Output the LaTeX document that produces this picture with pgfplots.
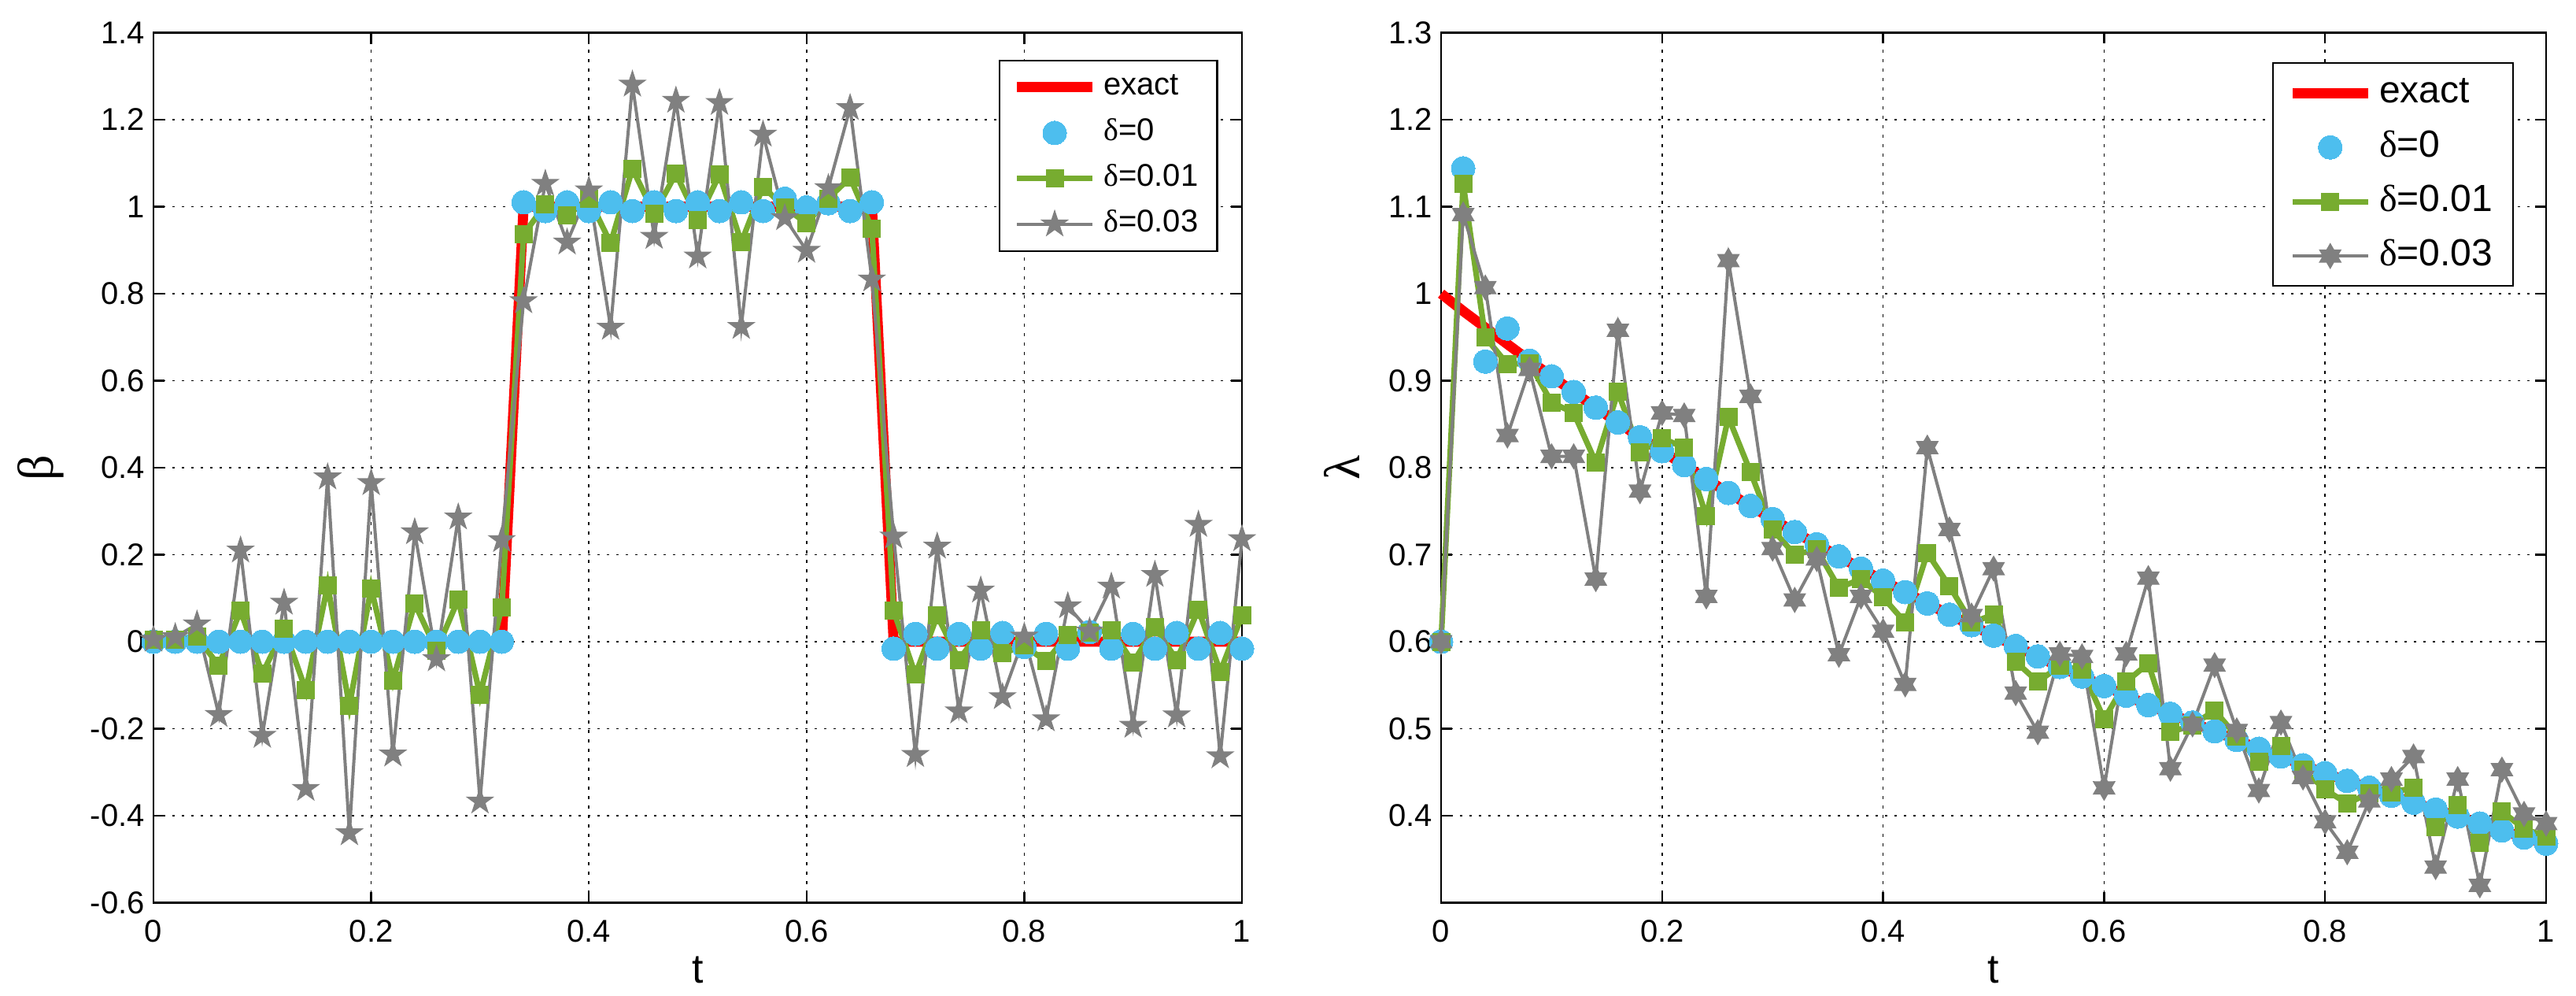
\documentclass[border=0pt]{standalone}
\usepackage{fontspec}
\setmainfont{Liberation Sans}
\newfontfamily\greek{Liberation Serif}
\usepackage{pgfplots}
\usepackage{pgfplotstable}
\pgfplotsset{compat=1.18}

\definecolor{cblue}{rgb}{0.302,0.745,0.933}
\definecolor{cgreen}{rgb}{0.467,0.675,0.188}
\definecolor{cgray}{rgb}{0.5,0.5,0.5}

\pgfdeclareplotmark{pentagram*}{%
  \pgfpathmoveto{\pgfpointpolar{90}{\pgfplotmarksize}}%
  \pgfpathlineto{\pgfpointpolar{126}{0.382\pgfplotmarksize}}%
  \pgfpathlineto{\pgfpointpolar{162}{\pgfplotmarksize}}%
  \pgfpathlineto{\pgfpointpolar{198}{0.382\pgfplotmarksize}}%
  \pgfpathlineto{\pgfpointpolar{234}{\pgfplotmarksize}}%
  \pgfpathlineto{\pgfpointpolar{270}{0.382\pgfplotmarksize}}%
  \pgfpathlineto{\pgfpointpolar{306}{\pgfplotmarksize}}%
  \pgfpathlineto{\pgfpointpolar{342}{0.382\pgfplotmarksize}}%
  \pgfpathlineto{\pgfpointpolar{18}{\pgfplotmarksize}}%
  \pgfpathlineto{\pgfpointpolar{54}{0.382\pgfplotmarksize}}%
  \pgfpathclose
  \pgfusepathqfillstroke}

\pgfdeclareplotmark{hexagram*}{%
  \pgfpathmoveto{\pgfpointpolar{90}{\pgfplotmarksize}}%
  \pgfpathlineto{\pgfpointpolar{120}{0.577\pgfplotmarksize}}%
  \pgfpathlineto{\pgfpointpolar{150}{\pgfplotmarksize}}%
  \pgfpathlineto{\pgfpointpolar{180}{0.577\pgfplotmarksize}}%
  \pgfpathlineto{\pgfpointpolar{210}{\pgfplotmarksize}}%
  \pgfpathlineto{\pgfpointpolar{240}{0.577\pgfplotmarksize}}%
  \pgfpathlineto{\pgfpointpolar{270}{\pgfplotmarksize}}%
  \pgfpathlineto{\pgfpointpolar{300}{0.577\pgfplotmarksize}}%
  \pgfpathlineto{\pgfpointpolar{330}{\pgfplotmarksize}}%
  \pgfpathlineto{\pgfpointpolar{0}{0.577\pgfplotmarksize}}%
  \pgfpathlineto{\pgfpointpolar{30}{\pgfplotmarksize}}%
  \pgfpathlineto{\pgfpointpolar{60}{0.577\pgfplotmarksize}}%
  \pgfpathclose
  \pgfusepathqfillstroke}

\pgfplotstableread{
t exact d0 d1 d3
0.00 0 0 0.005 0.005
0.02 0 0 0.005 0.011
0.04 0 0 0.011 0.040
0.06 0 0 -0.055 -0.168
0.08 0 0 0.072 0.210
0.10 0 0 -0.074 -0.216
0.12 0 0 0.030 0.090
0.14 0 0 -0.112 -0.338
0.16 0 0 0.129 0.378
0.18 0 0 -0.147 -0.440
0.20 0 0 0.123 0.365
0.22 0 0 -0.089 -0.259
0.24 0 0 0.088 0.252
0.26 0 0 -0.020 -0.040
0.28 0 0 0.097 0.286
0.30 0 0 -0.122 -0.367
0.32 0 0 0.079 0.234
0.34 1 1.010 0.936 0.783
0.36 1 0.990 1.005 1.053
0.38 1 1.010 0.980 0.918
0.40 1 0.990 1.019 1.038
0.42 1 1.010 0.916 0.722
0.44 1 0.990 1.087 1.281
0.46 1 1.010 0.984 0.931
0.48 1 0.990 1.076 1.244
0.50 1 1.010 0.970 0.886
0.52 1 0.990 1.074 1.239
0.54 1 1.010 0.918 0.724
0.56 1 0.990 1.046 1.166
0.58 1 1.018 0.998 0.974
0.60 1 0.998 0.962 0.899
0.62 1 1.008 1.019 1.043
0.64 1 0.990 1.067 1.227
0.66 1 1.010 0.950 0.833
0.68 0 -0.016 0.071 0.242
0.70 0 0.018 -0.076 -0.260
0.72 0 -0.016 0.060 0.219
0.74 0 0.018 -0.042 -0.160
0.76 0 -0.016 0.027 0.118
0.78 0 0.020 -0.027 -0.127
0.80 0 -0.012 -0.009 0.012
0.82 0 0.018 -0.045 -0.178
0.84 0 -0.016 0.015 0.082
0.86 0 0.022 0.021 0.024
0.88 0 -0.016 0.027 0.127
0.90 0 0.018 -0.048 -0.193
0.92 0 -0.016 0.034 0.154
0.94 0 0.020 -0.042 -0.169
0.96 0 -0.016 0.074 0.269
0.98 0 0.020 -0.069 -0.263
1.00 0 -0.016 0.060 0.236
}\betatable

\pgfplotstableread{
t exact d0 d1 d3
0.00 1.000 0.600 0.600 0.600
0.02 0.980 1.144 1.126 1.091
0.04 0.961 0.922 0.950 1.007
0.06 0.942 0.960 0.919 0.837
0.08 0.923 0.923 0.920 0.913
0.10 0.905 0.905 0.875 0.813
0.12 0.887 0.887 0.863 0.813
0.14 0.869 0.869 0.806 0.672
0.16 0.852 0.852 0.887 0.958
0.18 0.835 0.835 0.818 0.773
0.20 0.819 0.819 0.834 0.863
0.22 0.803 0.803 0.823 0.860
0.24 0.787 0.787 0.744 0.652
0.26 0.771 0.771 0.858 1.038
0.28 0.756 0.756 0.795 0.882
0.30 0.741 0.741 0.729 0.707
0.32 0.726 0.726 0.700 0.648
0.34 0.712 0.712 0.706 0.695
0.36 0.698 0.698 0.662 0.585
0.38 0.684 0.684 0.672 0.652
0.40 0.670 0.670 0.651 0.612
0.42 0.657 0.657 0.622 0.551
0.44 0.644 0.644 0.702 0.823
0.46 0.631 0.631 0.664 0.729
0.48 0.619 0.619 0.622 0.630
0.50 0.607 0.607 0.631 0.684
0.52 0.595 0.595 0.577 0.541
0.54 0.583 0.583 0.554 0.496
0.56 0.571 0.571 0.572 0.586
0.58 0.560 0.560 0.568 0.583
0.60 0.549 0.549 0.511 0.432
0.62 0.538 0.538 0.554 0.586
0.64 0.527 0.527 0.575 0.673
0.66 0.517 0.517 0.496 0.454
0.68 0.507 0.507 0.504 0.505
0.70 0.497 0.497 0.521 0.573
0.72 0.487 0.487 0.491 0.498
0.74 0.477 0.477 0.462 0.429
0.76 0.468 0.468 0.480 0.507
0.78 0.458 0.458 0.453 0.444
0.80 0.449 0.449 0.430 0.393
0.82 0.440 0.440 0.414 0.358
0.84 0.432 0.432 0.426 0.417
0.86 0.423 0.423 0.427 0.442
0.88 0.415 0.415 0.432 0.468
0.90 0.407 0.407 0.387 0.341
0.92 0.399 0.399 0.412 0.442
0.94 0.391 0.391 0.369 0.320
0.96 0.383 0.383 0.405 0.453
0.98 0.375 0.375 0.385 0.402
1.00 0.368 0.368 0.376 0.391
}\lambdatable

\pgfplotsset{
  myaxis/.style={
    scale only axis,
    anchor=south west,
    height=276.25pt,
    xmin=0, xmax=1,
    xtick={0,0.2,0.4,0.6,0.8,1},
    grid=major,
    major grid style={black, line width=0.4pt, dash pattern=on 0.8pt off 2.2pt},
    axis line style={black, line width=0.6pt},
    every tick/.style={black, line width=0.6pt},
    major tick length=3.5pt,
    tick align=inside,
    /pgf/number format/assume math mode=true,
    tick label style={font=\fontsize{10}{12}\selectfont},
    xticklabel style={anchor=base, yshift=-12.4pt},
    yticklabel style={anchor=east, inner sep=0pt, xshift=-2.6pt},
    xlabel={t},
    xlabel style={font=\fontsize{13}{15}\selectfont, at={(axis description cs:0.5,0)}, anchor=base, yshift=-25.4pt},
    clip=false,
    legend cell align=left,
    legend image code/.code={\draw[mark repeat=2, mark phase=2, ##1] plot coordinates {(0pt,0pt) (12pt,0pt) (24pt,0pt)};},
  },
  exactstyle/.style={color=red, line width=3.2pt, no marks},
  d0style/.style={only marks, mark=*, mark size=3.75pt, mark options={draw=cblue, fill=cblue, line width=0pt},
    legend image code/.code={\path[only marks, ##1] plot coordinates {(12pt,0pt)}; \path (0pt,0pt) (24pt,0pt);}},
  d1style/.style={color=cgreen, line width=1.8pt, mark=square*, mark size=2.75pt, mark options={solid, draw=cgreen, fill=cgreen, line width=0pt}},
}

\begin{document}
\begin{tikzpicture}
\useasboundingbox (0,0) rectangle (818.25pt,316pt);
\begin{axis}[myaxis,
  at={(48.75pt,29.375pt)}, width=345.75pt,
  ymin=-0.6, ymax=1.4,
  ytick={-0.6,-0.4,-0.2,0,0.2,0.4,0.6,0.8,1,1.2,1.4},
  ylabel={\greek β},
  ylabel style={font=\fontsize{16}{18}\selectfont, at={(axis description cs:-0.1034,0.5)}, anchor=center},
  legend style={at={(0.978,0.969)}, anchor=north east, draw=black, line width=0.55pt, fill=white,
    font=\fontsize{10}{12}\selectfont, inner xsep=4pt, inner ysep=3.5pt, row sep=4.5pt,
    nodes={inner xsep=2pt, inner ysep=0pt, text height=7.5pt, text depth=2.5pt}},
]
\addplot[exactstyle] table[x=t, y=exact] {\betatable};
\addlegendentry{exact}
\addplot[d0style] table[x=t, y=d0] {\betatable};
\addlegendentry{{\greek δ}=0}
\addplot[d1style] table[x=t, y=d1] {\betatable};
\addlegendentry{{\greek δ}=0.01}
\addplot[color=cgray, line width=1pt, mark=pentagram*, mark size=4.3pt, mark options={solid, draw=cgray, fill=cgray, line width=0.3pt}] table[x=t, y=d3] {\betatable};
\addlegendentry{{\greek δ}=0.03}
\end{axis}

\begin{axis}[myaxis,
  at={(457.75pt,29.375pt)}, width=351pt,
  ymin=0.3, ymax=1.3,
  ytick={0.4,0.5,0.6,0.7,0.8,0.9,1,1.1,1.2,1.3},
  ylabel={\greek λ},
  ylabel style={font=\fontsize{16}{18}\selectfont, at={(axis description cs:-0.0897,0.5)}, anchor=center},
  legend style={at={(0.971,0.966)}, anchor=north east, draw=black, line width=0.55pt, fill=white,
    font=\fontsize{12}{14}\selectfont, inner xsep=4.5pt, inner ysep=3.5pt, row sep=5.25pt,
    nodes={inner xsep=2pt, inner ysep=0pt, text height=9pt, text depth=3pt}},
]
\addplot[exactstyle] table[x=t, y=exact] {\lambdatable};
\addlegendentry{exact}
\addplot[d0style] table[x=t, y=d0] {\lambdatable};
\addlegendentry{{\greek δ}=0}
\addplot[d1style] table[x=t, y=d1] {\lambdatable};
\addlegendentry{{\greek δ}=0.01}
\addplot[color=cgray, line width=1pt, mark=hexagram*, mark size=3.9pt, mark options={solid, draw=cgray, fill=cgray, line width=0.3pt}] table[x=t, y=d3] {\lambdatable};
\addlegendentry{{\greek δ}=0.03}
\end{axis}
\end{tikzpicture}
\end{document}
